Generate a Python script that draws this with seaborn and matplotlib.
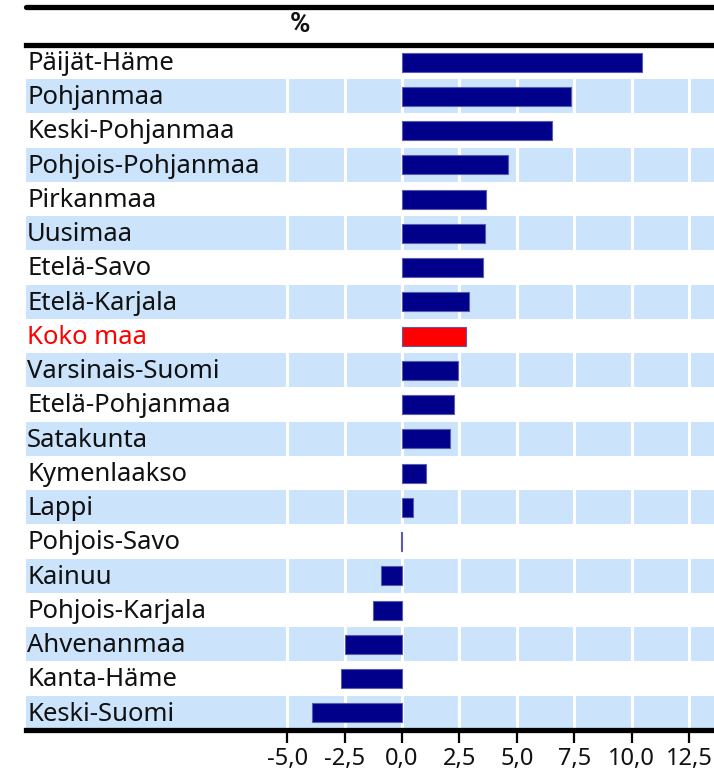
import matplotlib
matplotlib.use("Agg")
import matplotlib.pyplot as plt
from matplotlib.lines import Line2D
import seaborn as sns
import pandas as pd

# Regional change, per cent
regions = [
    "Päijät-Häme", "Pohjanmaa", "Keski-Pohjanmaa", "Pohjois-Pohjanmaa",
    "Pirkanmaa", "Uusimaa", "Etelä-Savo", "Etelä-Karjala", "Koko maa",
    "Varsinais-Suomi", "Etelä-Pohjanmaa", "Satakunta", "Kymenlaakso",
    "Lappi", "Pohjois-Savo", "Kainuu", "Pohjois-Karjala", "Ahvenanmaa",
    "Kanta-Häme", "Keski-Suomi",
]
change = [
    10.45, 7.36, 6.52, 4.63,
    3.66, 3.61, 3.53, 2.92, 2.79,
    2.44, 2.26, 2.09, 1.05,
    0.48, -0.03, -0.93, -1.26, -2.48,
    -2.67, -3.91,
]
highlight = "Koko maa"
xticks = [-5.0, -2.5, 0.0, 2.5, 5.0, 7.5, 10.0, 12.5]
xticklabels = ["-5,0", "-2,5", "0,0", "2,5", "5,0", "7,5", "10,0", "12,5"]
unit_label = "%"

NAVY = "#00008b"
RED = "#ff0000"
BAND = "#cce4fb"

sns.set_theme(style="white")
plt.rcParams["font.family"] = ["Noto Sans", "DejaVu Sans"]

df = pd.DataFrame({"region": regions, "change": change})
palette = {r: (RED if r == highlight else NAVY) for r in regions}

W, H = 714, 774
fig = plt.figure(figsize=(W / 100, H / 100), dpi=100)
left_px, right_px, top_px, bottom_px = 26, 714, 45, 730
ax = fig.add_axes([left_px / W, 1 - bottom_px / H,
                   (right_px - left_px) / W, (bottom_px - top_px) / H])

# alternating row bands
for i in range(len(regions)):
    if i % 2 == 1:
        ax.axhspan(i - 0.5, i + 0.5, color=BAND, lw=0, zorder=0)

# white vertical grid lines (visible only on the bands)
for t in xticks:
    ax.axvline(t, color="white", lw=2.2, zorder=1)

sns.barplot(data=df, x="change", y="region", hue="region", palette=palette,
            orient="h", width=0.56, legend=False, ax=ax, zorder=2,
            saturation=1, edgecolor="#5b5bb0", linewidth=0.8)
for patch, r in zip(ax.patches, regions):
    if r == highlight:
        patch.set_edgecolor("#ff6060")

x0_px = 402
px_per_unit = 22.96
ax.set_xlim((left_px - x0_px) / px_per_unit, (right_px - x0_px) / px_per_unit)
ax.set_ylim(len(regions) - 0.5, -0.5)

# row labels inside the plot area
ax.set_yticks([])
ax.set_ylabel("")
ax.set_xlabel("")
label_x = (27 - x0_px) / px_per_unit
for i, r in enumerate(regions):
    ax.text(label_x, i + 0.04, r, ha="left", va="center", fontsize=18.5,
            color=(RED if r == highlight else "#111111"), zorder=3)

ax.set_xticks(xticks)
ax.set_xticklabels(xticklabels, fontsize=17, color="#111111")
ax.tick_params(axis="x", direction="out", length=9, width=1.6,
               color="black", pad=3, bottom=True)

for s in ["left", "right"]:
    ax.spines[s].set_visible(False)
for s in ["top", "bottom"]:
    ax.spines[s].set_visible(True)
    ax.spines[s].set_color("black")
    ax.spines[s].set_linewidth(3.8)

# header rule and unit label
fig.add_artist(Line2D([left_px / W, 1.0], [1 - 6.5 / H, 1 - 6.5 / H],
                      color="black", lw=3.8, transform=fig.transFigure))
fig.text(300 / W, 1 - 25 / H, unit_label, ha="center", va="center",
         fontsize=20, fontweight="bold", color="#111111",
         family=["Roboto", "DejaVu Sans"])

fig.savefig("out.png", dpi=100)
